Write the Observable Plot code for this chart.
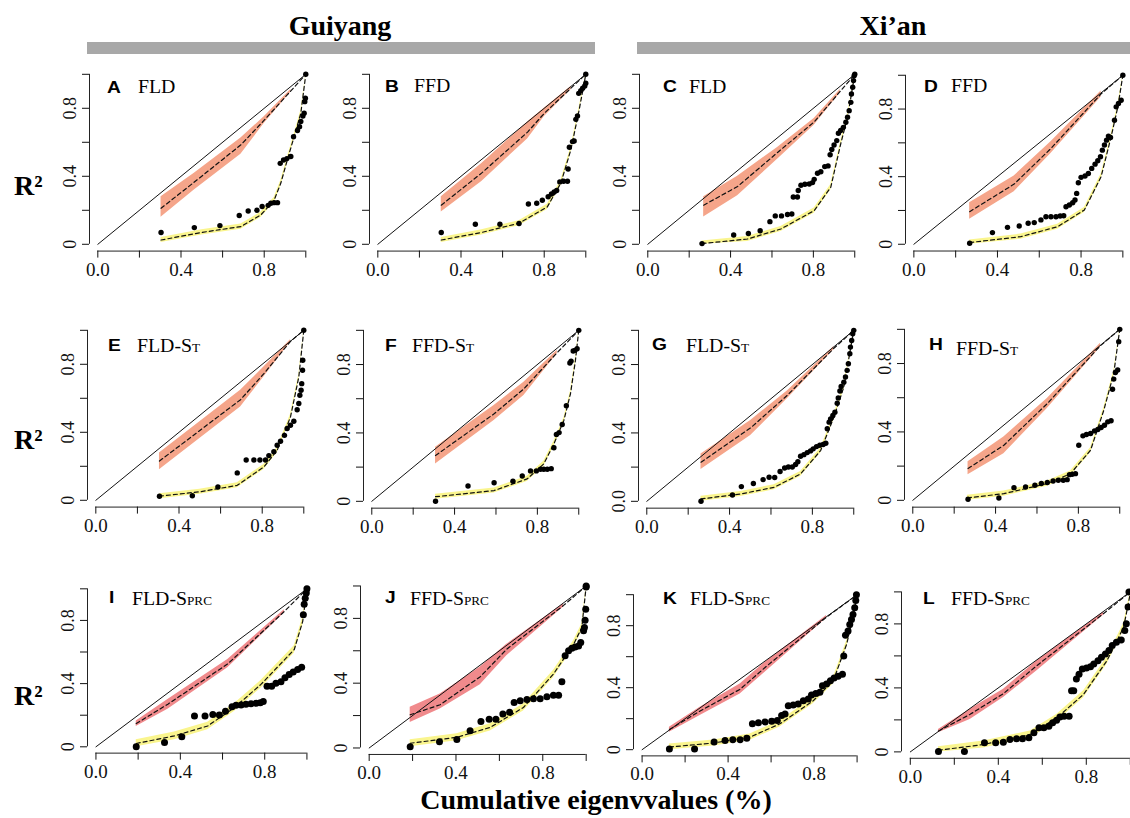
<!DOCTYPE html>
<html><head><meta charset="utf-8">
<script src="https://cdn.jsdelivr.net/npm/d3@7"></script>
<script src="https://cdn.jsdelivr.net/npm/@observablehq/plot@0.6"></script>
<style>
body{margin:0;background:#fff;}
#root{position:relative;width:1130px;height:818px;overflow:hidden;background:#fff;}
.abs{position:absolute;white-space:nowrap;line-height:1;}
.serif{font-family:'Liberation Serif','Times New Roman',serif;}
.sans{font-family:'Liberation Sans',Arial,sans-serif;}
.panel{position:absolute;}
</style></head><body><div id="root"></div>
<script>
// ---------------- DATA ----------------
const cityNames = ["Guiyang", "Xi\u2019an"];
const rowLabel = "R\u00B2";
const xTitle = "Cumulative eigenvvalues (%)";
const panelLetters = ["A","B","C","D","E","F","G","H","I","J","K","L"];
const panelMethods = ["FLD","FFD","FLD","FFD","FLD","FFD","FLD","FFD","FLD","FFD","FLD","FFD"];
const panelSuffix = ["","","","","T","T","T","T","PRC","PRC","PRC","PRC"];
const axisTicks = [0, 0.2, 0.4, 0.6, 0.8, 1];
const xTickLabels = ["0.0","","0.4","","0.8",""];
const yTickLabels = ["0","","0.4","","0.8",""];
const yTickLabelsG = ["0.0","","0.4","","0.8",""];
const diagonal = [[0,0],[1,1]];

// observed points [cumulative eigenvalue, R2]
const pointsA = [[0.304,0.069],[0.464,0.098],[0.587,0.110],[0.68,0.169],[0.723,0.196],[0.765,0.200],[0.79,0.222],[0.819,0.229],[0.832,0.241],[0.848,0.245],[0.864,0.245],[0.877,0.476],[0.893,0.496],[0.909,0.504],[0.928,0.516],[0.941,0.633],[0.96,0.669],[0.97,0.692],[0.976,0.722],[0.986,0.755],[0.992,0.771],[0.995,0.839],[0.998,0.859],[1,1]];
const pointsB = [[0.305,0.069],[0.469,0.118],[0.587,0.118],[0.679,0.122],[0.724,0.237],[0.764,0.241],[0.791,0.259],[0.819,0.280],[0.835,0.296],[0.848,0.308],[0.86,0.316],[0.875,0.367],[0.893,0.371],[0.912,0.371],[0.915,0.443],[0.921,0.571],[0.936,0.604],[0.944,0.608],[0.952,0.735],[0.96,0.755],[0.966,0.888],[0.976,0.904],[0.985,0.918],[0.995,0.931],[1,0.947],[1,1]];
const pointsC = [[0.262,0.004],[0.415,0.055],[0.486,0.063],[0.543,0.08],[0.59,0.133],[0.616,0.167],[0.646,0.167],[0.675,0.175],[0.696,0.178],[0.703,0.278],[0.723,0.278],[0.727,0.316],[0.74,0.347],[0.759,0.353],[0.78,0.355],[0.796,0.363],[0.804,0.382],[0.82,0.418],[0.836,0.427],[0.855,0.457],[0.871,0.461],[0.881,0.527],[0.889,0.558],[0.9,0.584],[0.913,0.61],[0.921,0.653],[0.932,0.669],[0.945,0.688],[0.957,0.718],[0.965,0.747],[0.973,0.786],[0.981,0.835],[0.984,0.884],[0.99,0.924],[0.994,0.963],[0.997,0.992],[1,1]];
const pointsD = [[0.267,0.006],[0.376,0.069],[0.448,0.1],[0.504,0.108],[0.547,0.124],[0.576,0.128],[0.608,0.144],[0.632,0.163],[0.656,0.163],[0.68,0.163],[0.7,0.167],[0.717,0.169],[0.728,0.222],[0.744,0.232],[0.76,0.246],[0.771,0.262],[0.779,0.301],[0.787,0.364],[0.8,0.396],[0.819,0.404],[0.835,0.419],[0.851,0.449],[0.867,0.474],[0.88,0.494],[0.893,0.518],[0.902,0.557],[0.912,0.587],[0.922,0.616],[0.931,0.64],[0.941,0.632],[0.96,0.734],[0.968,0.813],[0.979,0.833],[0.992,0.852],[1,1]];
const pointsE = [[0.306,0.024],[0.464,0.027],[0.587,0.078],[0.68,0.161],[0.723,0.237],[0.76,0.237],[0.789,0.237],[0.816,0.237],[0.832,0.263],[0.856,0.286],[0.872,0.324],[0.888,0.347],[0.907,0.382],[0.92,0.422],[0.936,0.441],[0.952,0.465],[0.968,0.533],[0.976,0.569],[0.981,0.618],[0.987,0.647],[0.99,0.686],[0.994,0.765],[0.995,0.824],[1,1]];
const pointsF = [[0.308,0.0],[0.465,0.09],[0.591,0.109],[0.682,0.117],[0.727,0.148],[0.767,0.178],[0.795,0.178],[0.815,0.188],[0.831,0.188],[0.848,0.188],[0.867,0.191],[0.88,0.313],[0.892,0.391],[0.905,0.402],[0.92,0.449],[0.94,0.559],[0.957,0.809],[0.963,0.82],[0.973,0.879],[0.982,0.883],[0.992,0.893],[1,1]];
const pointsG = [[0.262,0.0],[0.414,0.037],[0.457,0.086],[0.515,0.104],[0.562,0.127],[0.591,0.141],[0.618,0.139],[0.644,0.174],[0.666,0.195],[0.684,0.201],[0.703,0.201],[0.719,0.215],[0.73,0.232],[0.743,0.264],[0.759,0.273],[0.775,0.285],[0.791,0.295],[0.804,0.307],[0.82,0.32],[0.836,0.328],[0.852,0.332],[0.865,0.34],[0.872,0.424],[0.881,0.463],[0.888,0.482],[0.899,0.502],[0.909,0.521],[0.92,0.574],[0.925,0.605],[0.933,0.645],[0.939,0.672],[0.952,0.697],[0.96,0.727],[0.968,0.766],[0.974,0.805],[0.981,0.863],[0.984,0.902],[0.99,0.941],[0.995,0.98],[1,1]];
const pointsH = [[0.267,0.006],[0.416,0.014],[0.489,0.074],[0.545,0.078],[0.59,0.088],[0.621,0.098],[0.65,0.104],[0.678,0.113],[0.703,0.117],[0.727,0.117],[0.746,0.121],[0.757,0.15],[0.77,0.152],[0.786,0.156],[0.802,0.322],[0.822,0.377],[0.839,0.385],[0.859,0.391],[0.878,0.406],[0.894,0.414],[0.91,0.426],[0.926,0.439],[0.942,0.459],[0.958,0.465],[0.965,0.65],[0.971,0.709],[0.979,0.748],[0.99,0.762],[0.995,0.928],[1,1]];
const pointsI = [[0.191,0.0],[0.325,0.027],[0.407,0.063],[0.467,0.195],[0.517,0.195],[0.554,0.204],[0.585,0.202],[0.614,0.225],[0.645,0.254],[0.664,0.263],[0.688,0.265],[0.711,0.269],[0.735,0.273],[0.759,0.275],[0.779,0.279],[0.793,0.286],[0.811,0.384],[0.833,0.384],[0.853,0.403],[0.877,0.412],[0.896,0.437],[0.916,0.458],[0.935,0.473],[0.956,0.489],[0.975,0.504],[0.983,0.836],[0.987,0.903],[0.992,0.941],[0.997,0.973],[1,1]];
const pointsJ = [[0.189,0.008],[0.324,0.039],[0.404,0.053],[0.465,0.107],[0.515,0.164],[0.553,0.177],[0.584,0.177],[0.616,0.209],[0.647,0.22],[0.668,0.281],[0.696,0.292],[0.727,0.3],[0.757,0.304],[0.788,0.304],[0.819,0.316],[0.849,0.326],[0.873,0.326],[0.888,0.409],[0.903,0.569],[0.919,0.6],[0.934,0.616],[0.949,0.624],[0.965,0.63],[0.975,0.651],[0.988,0.723],[0.992,0.743],[0.995,0.789],[0.998,0.856],[1,0.994],[1,1]];
const pointsK = [[0.127,0.004],[0.244,0.004],[0.335,0.049],[0.386,0.06],[0.422,0.064],[0.456,0.064],[0.487,0.073],[0.513,0.167],[0.541,0.173],[0.572,0.179],[0.603,0.184],[0.629,0.188],[0.649,0.22],[0.665,0.231],[0.68,0.284],[0.703,0.288],[0.726,0.295],[0.75,0.316],[0.773,0.327],[0.788,0.353],[0.808,0.363],[0.827,0.37],[0.839,0.412],[0.858,0.423],[0.876,0.444],[0.893,0.462],[0.912,0.474],[0.932,0.487],[0.938,0.605],[0.946,0.739],[0.958,0.765],[0.966,0.808],[0.974,0.84],[0.981,0.872],[0.989,0.915],[0.994,0.962],[0.997,1.0]];
const pointsL = [[0.128,0.002],[0.246,0.002],[0.337,0.057],[0.388,0.057],[0.423,0.061],[0.453,0.078],[0.483,0.082],[0.51,0.082],[0.539,0.088],[0.562,0.12],[0.585,0.151],[0.607,0.151],[0.63,0.161],[0.647,0.182],[0.665,0.197],[0.68,0.218],[0.699,0.222],[0.722,0.222],[0.733,0.382],[0.743,0.382],[0.755,0.455],[0.767,0.486],[0.782,0.518],[0.801,0.524],[0.819,0.532],[0.834,0.549],[0.853,0.57],[0.869,0.591],[0.887,0.612],[0.903,0.633],[0.918,0.665],[0.937,0.686],[0.959,0.7],[0.975,0.759],[0.982,0.801],[0.99,0.906],[0.994,1.0]];

// upper null envelope [x, low, median, high]
const upperA = [[0.304,0.159,0.212,0.28],[0.464,0.32,0.366,0.418],[0.688,0.53,0.585,0.625],[0.80,0.71,0.73,0.75],[0.928,0.895,0.902,0.91]];
const upperB = [[0.305,0.19,0.23,0.28],[0.50,0.37,0.42,0.475],[0.72,0.62,0.66,0.72],[0.80,0.75,0.77,0.80],[0.93,0.91,0.92,0.93]];
const upperC = [[0.27,0.16,0.23,0.28],[0.434,0.286,0.34,0.40],[0.627,0.50,0.54,0.57],[0.804,0.70,0.72,0.74],[0.93,0.89,0.90,0.91]];
const upperD = [[0.267,0.148,0.193,0.246],[0.48,0.311,0.356,0.404],[0.656,0.537,0.567,0.606],[0.896,0.872,0.89,0.907]];
const upperE = [[0.306,0.18,0.231,0.278],[0.696,0.549,0.592,0.647],[0.808,0.725,0.745,0.784],[0.936,0.93,0.935,0.945]];
const upperF = [[0.308,0.219,0.268,0.316],[0.591,0.473,0.512,0.56],[0.735,0.619,0.658,0.697],[0.896,0.863,0.87,0.883]];
const upperG = [[0.262,0.186,0.229,0.277],[0.502,0.385,0.43,0.473],[0.679,0.60,0.62,0.645],[0.904,0.887,0.895,0.906]];
const upperH = [[0.267,0.15,0.186,0.225],[0.44,0.273,0.322,0.371],[0.65,0.537,0.566,0.596],[0.907,0.895,0.905,0.918]];
const upperI = [[0.191,0.128,0.147,0.164],[0.341,0.237,0.27,0.30],[0.625,0.50,0.525,0.553],[0.893,0.847,0.857,0.868]];
const upperJ = [[0.189,0.158,0.205,0.251],[0.327,0.24,0.267,0.333],[0.512,0.39,0.44,0.50],[0.634,0.569,0.61,0.64],[0.896,0.87,0.88,0.89]];
const upperK = [[0.127,0.113,0.13,0.145],[0.27,0.22,0.25,0.274],[0.456,0.359,0.39,0.423],[0.58,0.509,0.54,0.573],[0.858,0.848,0.855,0.865]];
const upperL = [[0.128,0.119,0.13,0.14],[0.272,0.203,0.235,0.266],[0.424,0.34,0.365,0.392],[0.576,0.507,0.54,0.57],[0.879,0.855,0.865,0.875]];

// lower envelope median [x, median]
const lowerA = [[0.304,0.025],[0.5,0.07],[0.688,0.104],[0.784,0.173],[0.848,0.26],[0.88,0.36],[0.912,0.5],[0.944,0.633],[0.976,0.77],[1,1]];
const lowerB = [[0.305,0.025],[0.5,0.07],[0.679,0.124],[0.815,0.22],[0.88,0.36],[0.928,0.555],[0.968,0.79],[1,1]];
const lowerC = [[0.262,0.004],[0.482,0.031],[0.643,0.09],[0.804,0.198],[0.884,0.335],[0.932,0.59],[0.965,0.747],[1,1]];
const lowerD = [[0.267,0.01],[0.512,0.045],[0.688,0.104],[0.816,0.203],[0.896,0.4],[0.944,0.636],[0.976,0.813],[1,1]];
const lowerE = [[0.306,0.024],[0.5,0.05],[0.68,0.088],[0.808,0.196],[0.872,0.294],[0.936,0.49],[0.976,0.725],[1,1]];
const lowerF = [[0.308,0.027],[0.591,0.063],[0.751,0.131],[0.831,0.219],[0.88,0.336],[0.928,0.473],[0.96,0.629],[0.984,0.824],[1,1]];
const lowerG = [[0.262,0.014],[0.454,0.043],[0.615,0.082],[0.743,0.16],[0.84,0.297],[0.904,0.492],[0.952,0.668],[1,1]];
const lowerH = [[0.264,0.014],[0.44,0.039],[0.65,0.098],[0.762,0.156],[0.859,0.293],[0.923,0.527],[0.971,0.742],[1,1]];
const lowerI = [[0.191,0.021],[0.372,0.069],[0.53,0.132],[0.656,0.248],[0.782,0.395],[0.94,0.616],[0.98,0.794],[1,1]];
const lowerJ = [[0.189,0.029],[0.404,0.066],[0.558,0.127],[0.711,0.25],[0.849,0.456],[0.942,0.64],[0.98,0.743],[1,1]];
const lowerK = [[0.127,0.017],[0.332,0.043],[0.502,0.081],[0.641,0.167],[0.796,0.316],[0.889,0.444],[0.951,0.679],[0.981,0.85],[1,1]];
const lowerL = [[0.128,0.01],[0.333,0.046],[0.545,0.109],[0.667,0.214],[0.788,0.36],[0.894,0.57],[0.97,0.78],[1,0.99]];
// half-width of the lower envelope band
const lowerHalfWidth = [0.015,0.015,0.015,0.015,0.015,0.015,0.015,0.015,0.024,0.022,0.02,0.022];

const allPoints = [pointsA,pointsB,pointsC,pointsD,pointsE,pointsF,pointsG,pointsH,pointsI,pointsJ,pointsK,pointsL];
const allUpper = [upperA,upperB,upperC,upperD,upperE,upperF,upperG,upperH,upperI,upperJ,upperK,upperL];
const allLower = [lowerA,lowerB,lowerC,lowerD,lowerE,lowerF,lowerG,lowerH,lowerI,lowerJ,lowerK,lowerL];

// ---------------- LAYOUT (pixel positions of x=0, x=1, y=0, y=1) ----------------
const layout = [
  {x0:97,x1:305,y0:244,y1:74, lx:107,nx:138,b:93,nb:93},
  {x0:377,x1:585,y0:244,y1:74, lx:385,nx:414,b:92,nb:92},
  {x0:647,x1:854,y0:244,y1:74, lx:663,nx:689,b:92,nb:93},
  {x0:913,x1:1122,y0:244,y1:75, lx:924,nx:951,b:92,nb:92},
  {x0:95,x1:303,y0:500,y1:330, lx:108,nx:137,b:351,nb:352},
  {x0:371,x1:578,y0:501,y1:330, lx:385,nx:412,b:351,nb:352},
  {x0:646,x1:853,y0:501,y1:330, lx:652,nx:686,b:350,nb:352},
  {x0:912,x1:1119,y0:500,y1:329, lx:929,nx:956,b:350,nb:355},
  {x0:95,x1:306,y0:746,y1:588, lx:109,nx:132,b:603,nb:605},
  {x0:369,x1:586,y0:747,y1:585, lx:385,nx:410,b:603,nb:605},
  {x0:642,x1:857,y0:749,y1:594, lx:663,nx:690,b:604,nb:605},
  {x0:910,x1:1130,y0:751,y1:591, lx:923,nx:951,b:604,nb:605}
];
const serifStack = "'Liberation Serif', 'Times New Roman', serif";
const salmon = "#F5A58A";
const coral = "#F08A8C";
const yellow = "#FAF58E";

const root = document.getElementById("root");

function addText(html, x, baseline, opts) {
  const fs = opts.size;
  const d = document.createElement("div");
  d.className = "abs " + (opts.family || "serif");
  d.style.fontSize = fs + "px";
  d.style.fontWeight = opts.weight || "normal";
  d.style.left = x + "px";
  d.style.top = (baseline - 0.84 * fs) + "px";
  if (opts.center) d.style.transform = "translateX(-50%)" + (opts.sx ? ` scaleX(${opts.sx})` : "");
  else if (opts.sx) { d.style.transform = `scaleX(${opts.sx})`; d.style.transformOrigin = "left"; }
  d.innerHTML = html;
  root.appendChild(d);
  return d;
}

function drawPanel(i) {
  const L = layout[i];
  const ux = L.x1 - L.x0, uy = L.y0 - L.y1;
  const pad = 0.04;
  const mL = 45, mR = 12, mT = 10, mB = 45;
  const width = mL + (1 + 2 * pad) * ux + mR;
  const height = mT + (1 + 2 * pad) * uy + mB;
  const dom = [-pad, 1 + pad];
  const bigRow = i >= 8;
  const bandColor = bigRow ? coral : salmon;
  const up = allUpper[i];
  const upMid = up.map(d => [d[0], d[2]]).concat([[1, 1]]);
  const low = allLower[i];
  const hw = lowerHalfWidth[i];
  const ylabs = i === 6 ? yTickLabelsG : yTickLabels;
  const fmtX = d => xTickLabels[axisTicks.findIndex(t => Math.abs(t - d) < 1e-9)] ?? "";
  const fmtY = d => ylabs[axisTicks.findIndex(t => Math.abs(t - d) < 1e-9)] ?? "";
  const svg = Plot.plot({
    width, height,
    marginLeft: mL, marginRight: mR, marginTop: mT, marginBottom: mB,
    style: {background: "transparent", overflow: "visible", maxWidth: "none", color: "#111"},
    x: {domain: dom},
    y: {domain: dom},
    marks: [
      Plot.areaY(up, {x: d => d[0], y1: d => d[1], y2: d => d[3], fill: bandColor, fillOpacity: 1}),
      Plot.areaY(low, {x: d => d[0], y1: d => Math.max(0, d[1] - hw), y2: d => Math.min(1, d[1] + hw), fill: yellow}),
      Plot.line(diagonal, {x: d => d[0], y: d => d[1], stroke: "#111", strokeWidth: 1}),
      Plot.line(upMid, {x: d => d[0], y: d => d[1], stroke: "#111", strokeWidth: 1.2, strokeDasharray: "4 3"}),
      Plot.line(low, {x: d => d[0], y: d => d[1], stroke: "#111", strokeWidth: 1.2, strokeDasharray: "4 3"}),
      Plot.dot(allPoints[i], {x: d => d[0], y: d => d[1], r: bigRow ? 3.5 : 2.7, fill: "#000", stroke: "none"}),
      Plot.ruleY([dom[0]], {x1: axisTicks[0], x2: axisTicks[axisTicks.length - 1], stroke: "#222"}),
      Plot.ruleX([dom[0]], {y1: axisTicks[0], y2: axisTicks[axisTicks.length - 1], stroke: "#222"}),
      Plot.axisX({ticks: axisTicks, tickSize: 7, tickPadding: 4, tickFormat: fmtX, fontSize: 19}),
      Plot.axisY({ticks: axisTicks, tickSize: 7, tickPadding: 7, tickRotate: -90, tickFormat: fmtY, fontSize: 18})
    ]
  });
  // force serif face on every tick label (inline style wins over Plot's defaults)
  svg.style.setProperty("font-family", serifStack, "important");
  svg.querySelectorAll("g, text").forEach(el => el.style.setProperty("font-family", serifStack, "important"));
  const wrap = document.createElement("div");
  wrap.className = "panel";
  wrap.style.left = (L.x0 - pad * ux - mL) + "px";
  wrap.style.top = (L.y1 - pad * uy - mT) + "px";
  wrap.appendChild(svg);
  root.appendChild(wrap);

  // panel tag + method label
  addText(panelLetters[i], L.lx, L.b, {size: 16, weight: "bold", family: "sans", sx: 1.2});
  const suf = panelSuffix[i] ? `<span style="font-size:12px">${panelSuffix[i]}</span>` : "";
  addText(panelMethods[i] + (panelSuffix[i] ? "-S" : "") + suf, L.nx, L.nb, {size: 18, sx: 1.1});
}

for (let i = 0; i < 12; i++) drawPanel(i);

// city headers and bars
const bars = [{x: 87, w: 508, cx: 340}, {x: 637, w: 493, cx: 893}];
bars.forEach((b, k) => {
  const bar = document.createElement("div");
  bar.style.cssText = `position:absolute;left:${b.x}px;top:42px;width:${b.w}px;height:12px;background:#A8A8A8;`;
  root.appendChild(bar);
  addText(cityNames[k], b.cx, 36, {size: 28, weight: "bold", center: true});
});
// row labels
[196, 450, 706].forEach(y => addText(rowLabel, 14, y, {size: 28, weight: "bold"}));
// x title
addText(xTitle, 596, 810, {size: 28, weight: "bold", center: true});
</script></body></html>
